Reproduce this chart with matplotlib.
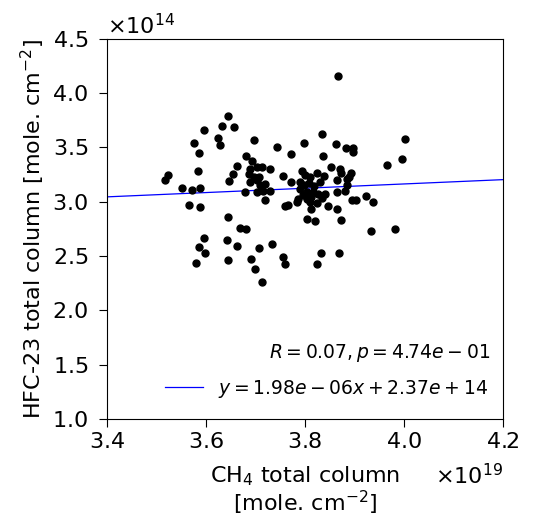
import numpy as np
import matplotlib
matplotlib.use("Agg")
import matplotlib.pyplot as plt
from matplotlib.ticker import ScalarFormatter

# CH4 total column (x1e19) and HFC-23 total column (x1e14), mole. cm^-2
ch4 = [3.867, 3.644, 3.632, 3.657, 3.595, 3.625, 3.629, 3.575, 3.586, 3.696,
       3.744, 3.772, 3.798, 3.835, 3.863, 3.882, 3.896, 3.897, 3.837, 4.001,
       3.995, 3.966, 3.680, 3.692, 3.663, 3.584, 3.523, 3.518, 3.655, 3.647,
       3.689, 3.702, 3.713, 3.730, 3.686, 3.696, 3.706, 3.689, 3.702, 3.710,
       3.719, 3.678, 3.703, 3.716, 3.729, 3.720, 3.755, 3.772, 3.551, 3.572,
       3.588, 3.566, 3.587, 3.793, 3.800, 3.810, 3.824, 3.838, 3.807, 3.797,
       3.790, 3.831, 3.790, 3.803, 3.817, 3.827, 3.840, 3.834, 3.786, 3.803,
       3.811, 3.813, 3.852, 3.871, 3.873, 3.892, 3.888, 3.884, 3.865, 3.864,
       3.881, 3.884, 3.923, 3.937, 3.894, 3.903, 3.847, 3.865, 3.813, 3.803,
       3.820, 3.872, 3.760, 3.765, 3.783, 3.933, 3.982, 3.644, 3.668, 3.681,
       3.596, 3.586, 3.598, 3.643, 3.662, 3.707, 3.733, 3.580, 3.645, 3.690,
       3.698, 3.713, 3.755, 3.760, 3.824, 3.832, 3.869, 3.818, 3.796, 3.824]
hfc23 = [4.154, 3.783, 3.692, 3.687, 3.661, 3.588, 3.524, 3.535, 3.450, 3.569,
         3.501, 3.437, 3.542, 3.625, 3.526, 3.492, 3.494, 3.456, 3.421, 3.579,
         3.395, 3.336, 3.416, 3.370, 3.329, 3.278, 3.248, 3.196, 3.251, 3.186,
         3.303, 3.318, 3.321, 3.303, 3.257, 3.228, 3.223, 3.177, 3.196, 3.150,
         3.165, 3.085, 3.085, 3.099, 3.099, 3.018, 3.239, 3.182, 3.122, 3.110,
         3.129, 2.972, 2.950, 3.283, 3.246, 3.226, 3.260, 3.237, 3.173, 3.150,
         3.180, 3.177, 3.113, 3.085, 3.088, 3.067, 3.072, 3.035, 3.021, 3.021,
         2.996, 3.042, 3.315, 3.303, 3.260, 3.267, 3.228, 3.211, 3.196, 3.088,
         3.101, 3.150, 3.053, 2.993, 3.018, 3.018, 2.959, 2.927, 2.929, 2.844,
         2.819, 2.833, 2.963, 2.970, 2.996, 2.730, 2.745, 2.856, 2.761, 2.743,
         2.666, 2.582, 2.531, 2.644, 2.592, 2.568, 2.608, 2.430, 2.465, 2.474,
         2.378, 2.261, 2.490, 2.424, 2.424, 2.522, 2.527, 3.140, 3.058, 2.985]

slope = 1.98e-06
intercept = 2.37e+14
r_value = 0.07
p_value = 4.74e-01

x = np.array(ch4) * 1e19
y = np.array(hfc23) * 1e14

fig = plt.figure(figsize=(5.38, 5.21), dpi=100)
ax = fig.add_axes([0.199, 0.196, 0.736, 0.730])

ax.scatter(x, y, s=25, color='black', zorder=3)

xfit = np.array([3.4e19, 4.2e19])
ax.plot(xfit, slope * xfit + intercept, color='blue', linewidth=0.9,
        label=r'$y = %.2e x + %.2e$' % (slope, intercept))

ax.set_xlim(3.4e19, 4.2e19)
ax.set_ylim(1.0e14, 4.5e14)
ax.set_xticks(np.arange(3.4, 4.21, 0.2) * 1e19)
ax.set_yticks(np.arange(1.0, 4.51, 0.5) * 1e14)

for axis in (ax.xaxis, ax.yaxis):
    fmt = ScalarFormatter(useMathText=True)
    axis.set_major_formatter(fmt)
    axis.get_offset_text().set_fontsize(16)
ax.xaxis.OFFSETTEXTPAD = 8
ax.tick_params(labelsize=16, length=6)
ax.tick_params(axis='y', pad=7.5)

ax.set_xlabel('CH$_4$ total column\n[mole. cm$^{-2}$]', fontsize=16,
              labelpad=9, linespacing=1.05)
ax.set_ylabel('HFC-23 total column [mole. cm$^{-2}$]', fontsize=16, labelpad=4)

ax.text(0.967, 0.173, r'$R = %.2f, p = %.2e$' % (r_value, p_value),
        transform=ax.transAxes, ha='right', va='center', fontsize=13.5)
ax.legend(loc='lower right', frameon=False, fontsize=13.5,
          bbox_to_anchor=(0.98, 0.03), borderaxespad=0)

fig.savefig('out.png', dpi=100)
